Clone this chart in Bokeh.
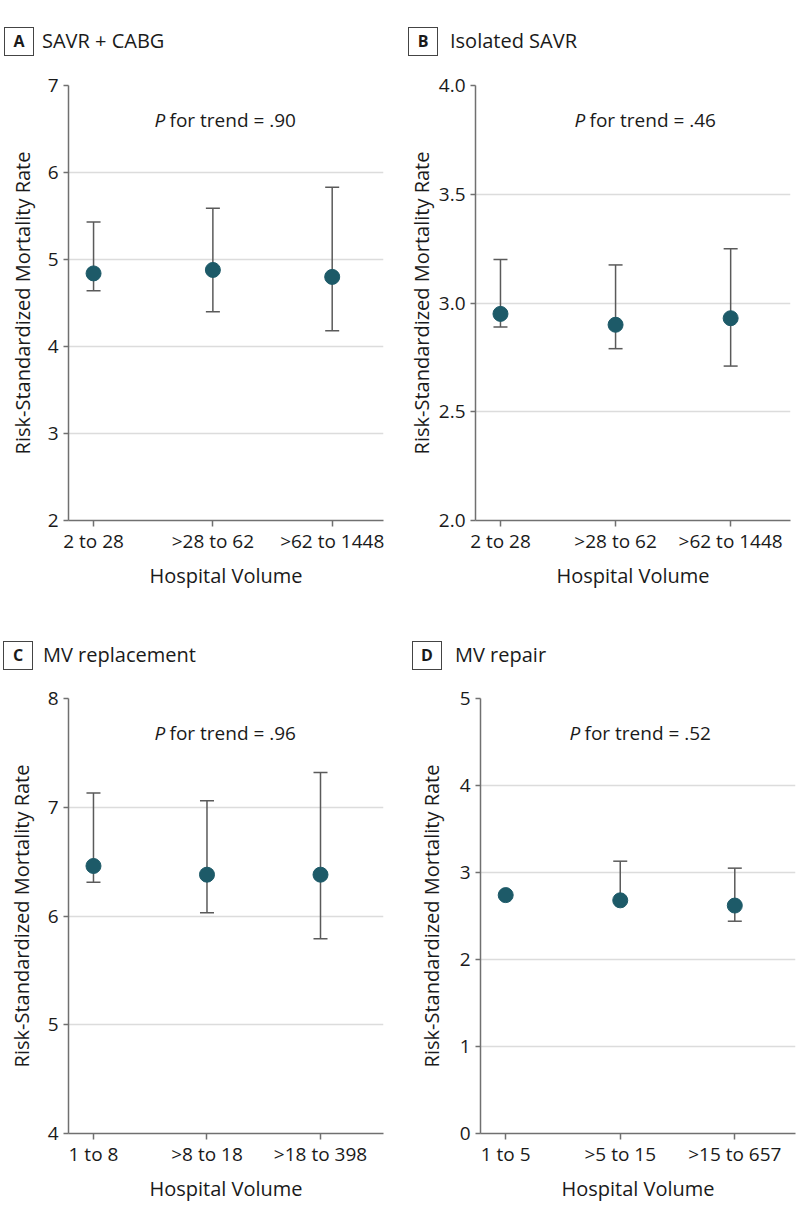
import numpy as np
from bokeh.plotting import figure
from bokeh.models import Label, FixedTicker, Range1d, NumeralTickFormatter, ColumnDataSource, Div
from bokeh.layouts import column, row
from bokeh.embed import file_html
from bokeh.resources import INLINE

NaN = np.nan

# ---------------- data ----------------
a_categories = ["2 to 28", ">28 to 62", ">62 to 1448"]
a_rate = [4.84, 4.88, 4.80]
a_lower = [4.64, 4.40, 4.18]
a_upper = [5.43, 5.59, 5.83]
a_yticks = [2, 3, 4, 5, 6, 7]
a_ptrend = "for trend = .90"

b_categories = ["2 to 28", ">28 to 62", ">62 to 1448"]
b_rate = [2.95, 2.90, 2.93]
b_lower = [2.89, 2.79, 2.71]
b_upper = [3.20, 3.175, 3.25]
b_yticks = [2.0, 2.5, 3.0, 3.5, 4.0]
b_ptrend = "for trend = .46"

c_categories = ["1 to 8", ">8 to 18", ">18 to 398"]
c_rate = [6.46, 6.38, 6.38]
c_lower = [6.31, 6.03, 5.79]
c_upper = [7.13, 7.06, 7.32]
c_yticks = [4, 5, 6, 7, 8]
c_ptrend = "for trend = .96"

d_categories = ["1 to 5", ">5 to 15", ">15 to 657"]
d_rate = [2.74, 2.68, 2.62]
d_lower = [NaN, NaN, 2.44]
d_upper = [NaN, 3.13, 3.05]
d_yticks = [0, 1, 2, 3, 4, 5]
d_ptrend = "for trend = .52"

titles = {"A": "SAVR + CABG", "B": "Isolated SAVR", "C": "MV replacement", "D": "MV repair"}
x_label = "Hospital Volume"
y_label = "Risk-Standardized Mortality Rate"

# ---------------- style ----------------
FONT = "Open Sans"
MARKER = "#1d5a68"
WHISK = "#5a5a5a"
AXIS = "#707070"
GRID = "#dcdcdc"
TXT = "#1a1a1a"


def header(letter, box_left, title_left, box_top, height, width=399):
    html = (
        f'<div style="position:relative;width:{width}px;height:{height}px;'
        f"font-family:'Open Sans';color:{TXT}\">"
        f'<div style="position:absolute;left:{box_left}px;top:{box_top}px;width:30px;height:29px;'
        f'box-sizing:border-box;border:1px solid #444;font-weight:bold;font-size:16px;'
        f'display:flex;align-items:center;justify-content:center">{letter}</div>'
        f'<div style="position:absolute;left:{title_left}px;top:{box_top}px;height:29px;'
        f'display:flex;align-items:center;font-size:20px;white-space:nowrap">{titles[letter]}</div>'
        f'</div>'
    )
    return Div(text=html, width=width, height=height, margin=(0, 0, 0, 0))


def panel(cats, rate, lower, upper, yticks, ptrend, xr, fl, fw, ft, fh, fb, fr,
          ylab_standoff, p_x, yfmt=None):
    p = figure(frame_width=fw, frame_height=fh, min_border_left=fl, min_border_right=fr,
               min_border_top=ft, min_border_bottom=fb, output_backend="svg",
               toolbar_location=None, x_range=Range1d(*xr),
               y_range=Range1d(yticks[0], yticks[-1]))
    p.outline_line_color = None
    p.background_fill_color = "white"
    p.border_fill_color = "white"

    xs = list(range(1, len(cats) + 1))
    src = ColumnDataSource(dict(x=xs, rate=np.array(rate, dtype=float),
                                lo=np.array(lower, dtype=float),
                                hi=np.array(upper, dtype=float)))
    p.segment(x0="x", y0="rate", x1="x", y1="hi", source=src, line_color=WHISK, line_width=1.5)
    p.segment(x0="x", y0="lo", x1="x", y1="rate", source=src, line_color=WHISK, line_width=1.5)
    p.scatter(x="x", y="hi", source=src, marker="dash", size=14, line_color=WHISK, line_width=1.5)
    p.scatter(x="x", y="lo", source=src, marker="dash", size=14, line_color=WHISK, line_width=1.5)
    p.scatter(x="x", y="rate", source=src, size=15, fill_color=MARKER, line_color=MARKER)

    # axes
    xa = p.xaxis[0]
    xa.ticker = FixedTicker(ticks=xs)
    xa.major_label_overrides = {x: c for x, c in zip(xs, cats)}
    xa.axis_label = x_label
    ya = p.yaxis[0]
    ya.ticker = FixedTicker(ticks=yticks)
    if yfmt:
        ya.formatter = NumeralTickFormatter(format=yfmt)
    ya.axis_label = y_label
    for ax in (xa, ya):
        ax.axis_line_color = AXIS
        ax.axis_line_width = 1.5
        ax.major_tick_line_color = AXIS
        ax.major_tick_line_width = 1.5
        ax.major_tick_in = 0
        ax.minor_tick_line_color = None
        ax.major_label_text_font = FONT
        ax.major_label_text_font_size = "19px"
        ax.major_label_text_color = TXT
        ax.axis_label_text_font = FONT
        ax.axis_label_text_font_size = "20px"
        ax.axis_label_text_font_style = "normal"
        ax.axis_label_text_color = TXT
    xa.major_tick_out = 6
    xa.major_label_standoff = 1
    xa.axis_label_standoff = 5
    ya.major_tick_out = 5
    ya.major_label_standoff = 5
    ya.axis_label_standoff = ylab_standoff

    p.xgrid.visible = False
    p.ygrid.ticker = FixedTicker(ticks=yticks)
    p.ygrid.grid_line_color = GRID
    p.ygrid.grid_line_width = 1.5

    # P for trend
    ty = fh - 34
    p.add_layout(Label(x=p_x, y=ty, x_units="screen", y_units="screen", text="P",
                       text_font=FONT, text_font_size="19px", text_font_style="italic",
                       text_align="left", text_baseline="middle", text_color=TXT))
    p.add_layout(Label(x=p_x + 15, y=ty, x_units="screen", y_units="screen", text=ptrend,
                       text_font=FONT, text_font_size="19px",
                       text_align="left", text_baseline="middle", text_color=TXT))
    return p


pa = panel(a_categories, a_rate, a_lower, a_upper, a_yticks, a_ptrend,
           (0.79, 3.43), 68, 315, 17, 435, 105, 16, 9, 86)
pb = panel(b_categories, b_rate, b_lower, b_upper, b_yticks, b_ptrend,
           (0.783, 3.52), 76, 315, 17, 435, 105, 8, 1, 99, yfmt="0.0")
pc = panel(c_categories, c_rate, c_lower, c_upper, c_yticks, c_ptrend,
           (0.78, 3.555), 68, 315, 13, 435, 80, 16, 10, 86)
pd_ = panel(d_categories, d_rate, d_lower, d_upper, d_yticks, d_ptrend,
            (0.78, 3.53), 81, 315, 13, 435, 80, 3, 12, 89)

ha = header("A", 4, 42, 27, 68)
hb = header("B", 9, 51, 27, 68)
hc = header("C", 3, 43, 16, 60)
hd = header("D", 13, 56, 16, 60)

layout = column(row(ha, hb), row(pa, pb), row(hc, hd), row(pc, pd_))
open("out.html", "w").write(file_html(layout, INLINE))
